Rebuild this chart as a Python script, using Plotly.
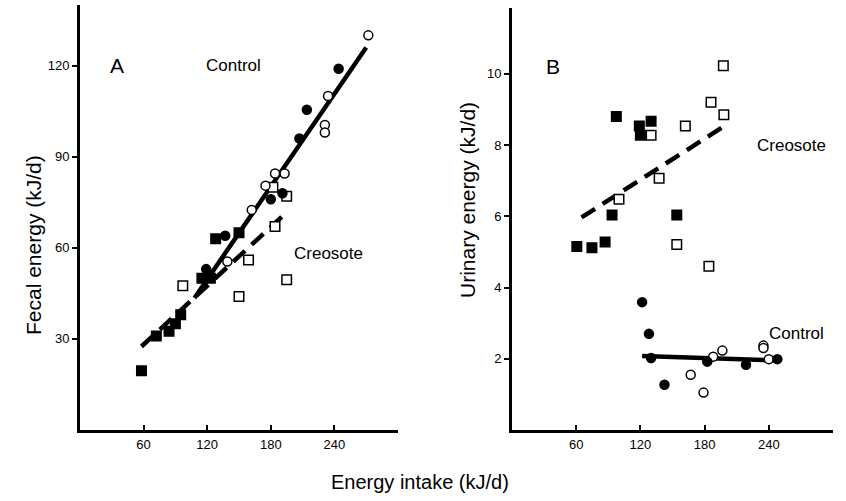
import plotly.graph_objects as go

# ---------------- Panel A: fecal energy ----------------
a_fc_x = [244, 214, 207, 191, 180, 137, 119]
a_fc_y = [119, 105.5, 96, 78, 76, 64, 53]
a_oc_x = [272, 234, 231, 231, 184, 193, 175, 162, 139]
a_oc_y = [130, 110, 100.5, 98, 84.5, 84.5, 80.5, 72.5, 55.5]
a_fs_x = [58, 72, 84, 90, 95, 115, 123, 128, 150]
a_fs_y = [19.5, 31, 32.5, 35, 38, 50, 50, 63, 65]
a_os_x = [97, 159, 150, 182, 195, 184, 195]
a_os_y = [47.5, 56, 44, 80, 77, 67, 49.5]
a_ctrl_line_x = [108, 270]
a_ctrl_line_y = [43.5, 126]
a_creo_line_x = [58, 194]
a_creo_line_y = [27.5, 71.4]

# ---------------- Panel B: urinary energy ----------------
b_fs_x = [60.6, 74.7, 87, 93.5, 154, 97.5, 119, 120, 130]
b_fs_y = [5.15, 5.12, 5.28, 6.04, 6.04, 8.8, 8.54, 8.28, 8.67]
b_os_x = [197.5, 186, 198, 130, 162, 137.5, 100, 154, 184]
b_os_y = [10.23, 9.2, 8.85, 8.28, 8.54, 7.07, 6.48, 5.21, 4.6]
b_fc_x = [121.6, 128, 130, 142.5, 182.5, 218.7, 248]
b_fc_y = [3.59, 2.7, 2.02, 1.27, 1.92, 1.83, 1.99]
b_oc_x = [167, 179, 188, 196.6, 235, 235, 240]
b_oc_y = [1.55, 1.05, 2.06, 2.23, 2.37, 2.30, 1.99]
b_ctrl_line_x = [121.6, 248]
b_ctrl_line_y = [2.08, 1.95]
b_creo_line_x = [65, 196.6]
b_creo_line_y = [5.97, 8.5]

x_ticks = [60, 120, 180, 240]
a_y_ticks = [30, 60, 90, 120]
b_y_ticks = [2, 4, 6, 8, 10]

FONT = "Liberation Sans Narrow, Liberation Sans, Arial, sans-serif"
FONT_W = "Liberation Sans, Arial, sans-serif"

fig = go.Figure()

def add_panel(xa, ya, lines, pts):
    for (lx, ly, dash) in lines:
        fig.add_trace(go.Scatter(x=lx, y=ly, mode="lines", xaxis=xa, yaxis=ya,
                                 line=dict(color="black", width=4.5, dash=dash),
                                 showlegend=False, hoverinfo="skip"))
    for (px, py, sym, filled) in pts:
        fig.add_trace(go.Scatter(
            x=px, y=py, mode="markers", xaxis=xa, yaxis=ya, showlegend=False,
            marker=dict(symbol=sym, size=9 if "circle" in sym else 9.5,
                        color="black" if filled else "white",
                        line=dict(color="black", width=1.5))))

add_panel("x", "y",
          [(a_ctrl_line_x, a_ctrl_line_y, "solid"),
           (a_creo_line_x, a_creo_line_y, "16px,9px")],
          [(a_os_x, a_os_y, "square", False),
           (a_fs_x, a_fs_y, "square", True),
           (a_oc_x, a_oc_y, "circle", False),
           (a_fc_x, a_fc_y, "circle", True)])
add_panel("x2", "y2",
          [(b_ctrl_line_x, b_ctrl_line_y, "solid"),
           (b_creo_line_x, b_creo_line_y, "16px,9px")],
          [(b_os_x, b_os_y, "square", False),
           (b_fs_x, b_fs_y, "square", True),
           (b_oc_x, b_oc_y, "circle", False),
           (b_fc_x, b_fc_y, "circle", True)])

W, H = 846, 501
ybot = 1 - 430 / H
ytop = 1 - 5 / H

common_x = dict(range=[0, 300], tickvals=x_ticks, ticks="inside", ticklen=5,
                tickwidth=2, tickcolor="black", showline=True, linewidth=3,
                linecolor="black", showgrid=False, zeroline=False,
                tickfont=dict(family=FONT, size=13, color="black"))
common_y = dict(ticks="outside", ticklen=5, tickwidth=2, tickcolor="black",
                showline=True, linewidth=3, linecolor="black", showgrid=False,
                zeroline=False, tickfont=dict(family=FONT, size=13, color="black"))

fig.update_layout(
    width=W, height=H, margin=dict(l=0, r=0, t=0, b=0),
    plot_bgcolor="white", paper_bgcolor="white",
    xaxis=dict(domain=[80 / W, 398 / W], anchor="y", **common_x),
    yaxis=dict(domain=[ybot, ytop], anchor="x", range=[0, 140],
               tickvals=a_y_ticks, **common_y),
    xaxis2=dict(domain=[512 / W, 833 / W], anchor="y2", **common_x),
    yaxis2=dict(domain=[ybot, 1 - 8 / H], anchor="x2", range=[0, 11.85],
                tickvals=b_y_ticks, **common_y),
)

ann = [
    dict(x=35, y=120, xref="x", yref="y", text="A", font=dict(size=21)),
    dict(x=145, y=120, xref="x", yref="y", text="Control", font=dict(size=17)),
    dict(x=234, y=58, xref="x", yref="y", text="Creosote", font=dict(size=17)),
    dict(x=38, y=10.2, xref="x2", yref="y2", text="B", font=dict(size=21)),
    dict(x=261, y=8.0, xref="x2", yref="y2", text="Creosote", font=dict(size=17)),
    dict(x=266, y=2.72, xref="x2", yref="y2", text="Control", font=dict(size=17)),
    dict(x=33 / W, y=1 - 245 / H, xref="paper", yref="paper",
         text="Fecal energy (kJ/d)", textangle=-90, font=dict(size=21)),
    dict(x=467 / W, y=1 - 200 / H, xref="paper", yref="paper",
         text="Urinary energy (kJ/d)", textangle=-90, font=dict(size=21)),
    dict(x=420 / W, y=1 - 482 / H, xref="paper", yref="paper",
         text="Energy intake (kJ/d)", font=dict(size=20)),
]
for a in ann:
    a["font"].update(family=FONT_W, color="black")
    fig.add_annotation(showarrow=False, xanchor="center", yanchor="middle", **a)

fig.write_html("out.html", config={"displayModeBar": False},
               post_script="document.body.style.margin='0px';document.body.style.overflow='hidden';")
